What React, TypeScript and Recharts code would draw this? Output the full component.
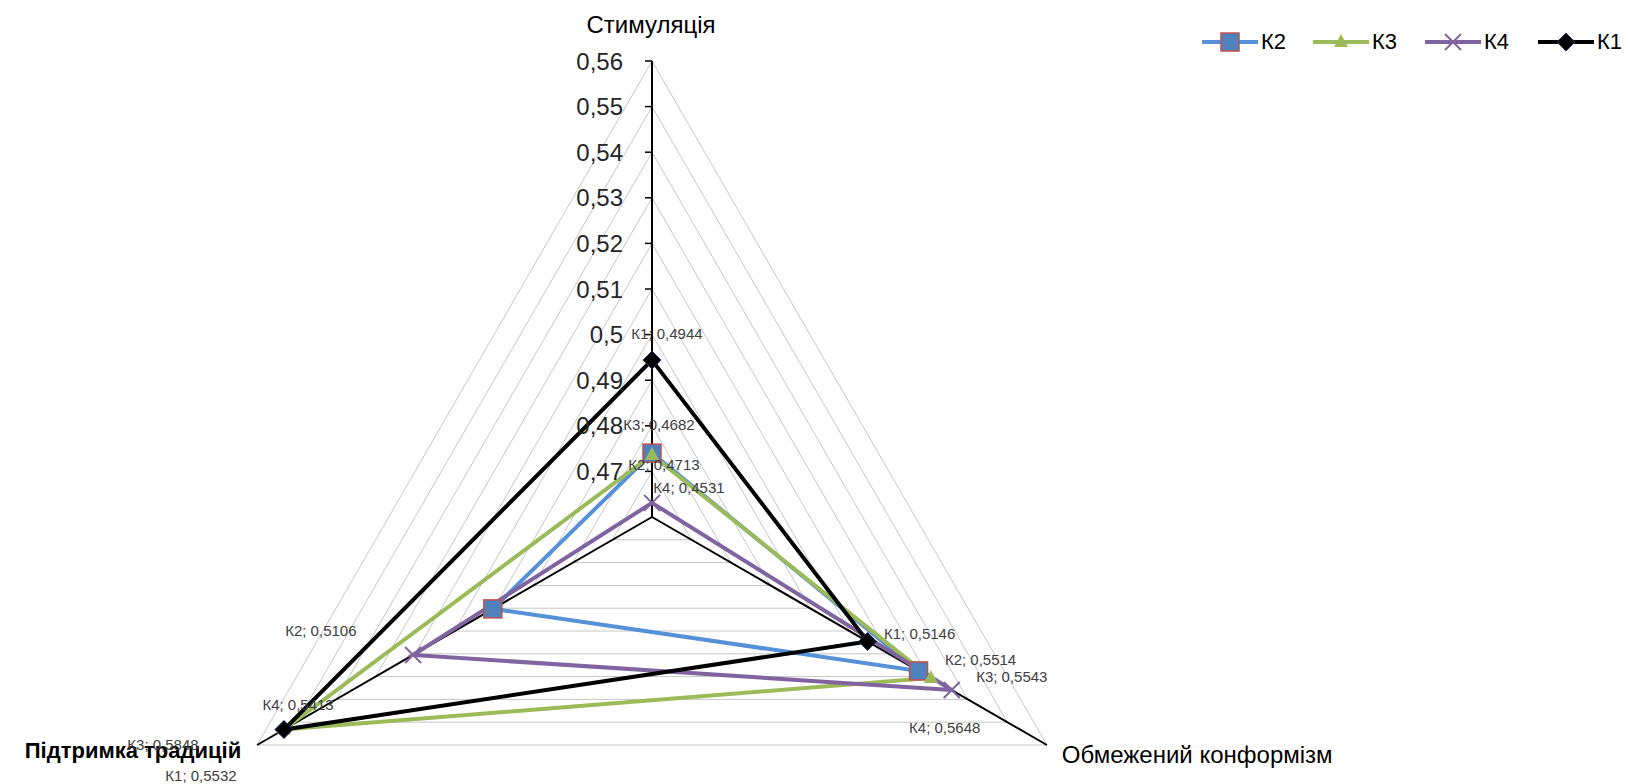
import { RadarChart, Radar, PolarGrid, PolarAngleAxis, PolarRadiusAxis } from 'recharts';

const categories = ['Стимуляція', 'Обмежений конформізм', 'Підтримка традицій'];

const k1 = [0.4944, 0.5146, 0.5532];
const k2 = [0.474, 0.5275, 0.5003];
const k3 = [0.4736, 0.5306, 0.5532];
const k4 = [0.4631, 0.5359, 0.5205];

const k1Labels = ['К1; 0,4944', 'К1; 0,5146', 'К1; 0,5532'];
const k2Labels = ['К2; 0,4713', 'К2; 0,5514', 'К2; 0,5106'];
const k3Labels = ['К3; 0,4682', 'К3; 0,5543', 'К3; 0,5848'];
const k4Labels = ['К4; 0,4531', 'К4; 0,5648', 'К4; 0,5413'];

const radiusTicks = [0.46, 0.47, 0.48, 0.49, 0.5, 0.51, 0.52, 0.53, 0.54, 0.55, 0.56];

const data = categories.map((axis, i) => ({ axis, k1: k1[i], k2: k2[i], k3: k3[i], k4: k4[i] }));

const FONT = '"Liberation Sans", Arial, sans-serif';

// label offsets from the point (text centre)
const k1Off = [[15, -27], [52, -8], [-83, 46]];
const k2Off = [[12, 11], [62, -11], [-172, 22]];
const k3Off = [[7, -30], [81, -1], [-121, 15]];
const k4Off = [[37, -15], [-7, 37], [-115, 50]];

const COLORS = { k2: '#5590D8', k3: '#9BBB59', k4: '#8064A2', k1: '#000000' };

function marker(kind: string, x: number, y: number) {
  if (kind === 'k2')
    return <rect x={x - 9} y={y - 9} width={18} height={18} fill="#4F81BD" stroke="#C0504D" strokeWidth={1.5} />;
  if (kind === 'k3')
    return <polygon points={`${x},${y - 8} ${x + 7},${y + 5} ${x - 7},${y + 5}`} fill="#9BBB59" />;
  if (kind === 'k4')
    return (
      <g stroke="#8064A2" strokeWidth={2}>
        <line x1={x - 8} y1={y - 8} x2={x + 8} y2={y + 8} />
        <line x1={x - 8} y1={y + 8} x2={x + 8} y2={y - 8} />
      </g>
    );
  return <polygon points={`${x},${y - 9} ${x + 9},${y} ${x},${y + 9} ${x - 9},${y}`} fill="#000" stroke="#1f2a6b" strokeWidth={1} />;
}

const makeDot = (kind: string, labels: string[], offs: number[][]) => (props: any) => {
  const { cx, cy, index } = props;
  const [dx, dy] = offs[index];
  return (
    <g key={`${kind}-${index}`}>
      {marker(kind, cx, cy)}
      <text x={cx + dx} y={cy + dy} textAnchor="middle" dominantBaseline="central" fontSize={15} fill="#404040" fontFamily={FONT}>
        {labels[index]}
      </text>
    </g>
  );
};

// Excel general number format: 0,5 rather than 0,50
const fmt = (v: number) => String(Number(v.toFixed(2))).replace('.', ',');

const RadiusTick = (props: any) => {
  const { x, y, payload } = props;
  const v = Number(payload.value);
  if (v < 0.465) return <g />;
  return (
    <g>
      <line x1={x - 7} x2={x} y1={y} y2={y} stroke="#000" strokeWidth={1.5} />
      <text x={x - 29} y={y} textAnchor="end" dominantBaseline="central" fontSize={24} fill="#262626" fontFamily={FONT}>
        {fmt(v)}
      </text>
    </g>
  );
};

const angleStyle = [
  { dx: -1, dy: -20, anchor: 'middle', size: 24, weight: 'normal' },
  { dx: 8, dy: 14, anchor: 'start', size: 24, weight: 'normal' },
  { dx: -9, dy: 9, anchor: 'end', size: 22, weight: 'bold' },
];

const AngleTick = (props: any) => {
  const { x, y, payload, index } = props;
  const s = angleStyle[index] || angleStyle[0];
  return (
    <text x={x + s.dx} y={y + s.dy} textAnchor={s.anchor} fontSize={s.size} fontWeight={s.weight} fill="#000" fontFamily={FONT}>
      {payload.value}
    </text>
  );
};

const legendItems = [
  { key: 'k2', name: 'К2', x: 1202 },
  { key: 'k3', name: 'К3', x: 1313 },
  { key: 'k4', name: 'К4', x: 1425 },
  { key: 'k1', name: 'К1', x: 1538 },
];

export default function App() {
  return (
    <div style={{ position: 'relative', width: 1629, height: 784, fontFamily: FONT }}>
      <style>{'body{margin:0}'}</style>
      <RadarChart width={1629} height={784} data={data} cx={652} cy={517} outerRadius={456} margin={{ top: 0, right: 0, bottom: 0, left: 0 }}>
        <PolarGrid gridType="polygon" radialLines={false} stroke="#c6c6c6" strokeWidth={1} />
        <PolarGrid gridType="polygon" polarRadius={[0]} stroke="#000" strokeWidth={2} />
        <PolarAngleAxis dataKey="axis" tick={AngleTick} tickLine={false} axisLine={false} />
        <PolarRadiusAxis
          angle={90}
          type="number"
          scale="linear"
          domain={[0.46, 0.56]}
          ticks={radiusTicks}
          allowDecimals
          allowDataOverflow
          axisLine={false}
          tickLine={false}
          tick={RadiusTick}
        />
        <Radar name="К2" dataKey="k2" stroke={COLORS.k2} strokeWidth={4} fill="none" dot={makeDot('k2', k2Labels, k2Off)} isAnimationActive={false} />
        <Radar name="К3" dataKey="k3" stroke={COLORS.k3} strokeWidth={4} fill="none" dot={makeDot('k3', k3Labels, k3Off)} isAnimationActive={false} />
        <Radar name="К4" dataKey="k4" stroke={COLORS.k4} strokeWidth={4} fill="none" dot={makeDot('k4', k4Labels, k4Off)} isAnimationActive={false} />
        <Radar name="К1" dataKey="k1" stroke={COLORS.k1} strokeWidth={4} fill="none" dot={makeDot('k1', k1Labels, k1Off)} isAnimationActive={false} />
      </RadarChart>
      {legendItems.map((it) => (
        <div key={it.key} style={{ position: 'absolute', left: it.x, top: 28, display: 'flex', alignItems: 'center', height: 28 }}>
          <svg width={56} height={20}>
            <line x1={0} x2={56} y1={10} y2={10} stroke={(COLORS as any)[it.key]} strokeWidth={4} />
            {marker(it.key, 28, 10)}
          </svg>
          <span style={{ fontSize: 22, marginLeft: 3, color: '#000' }}>{it.name}</span>
        </div>
      ))}
    </div>
  );
}
